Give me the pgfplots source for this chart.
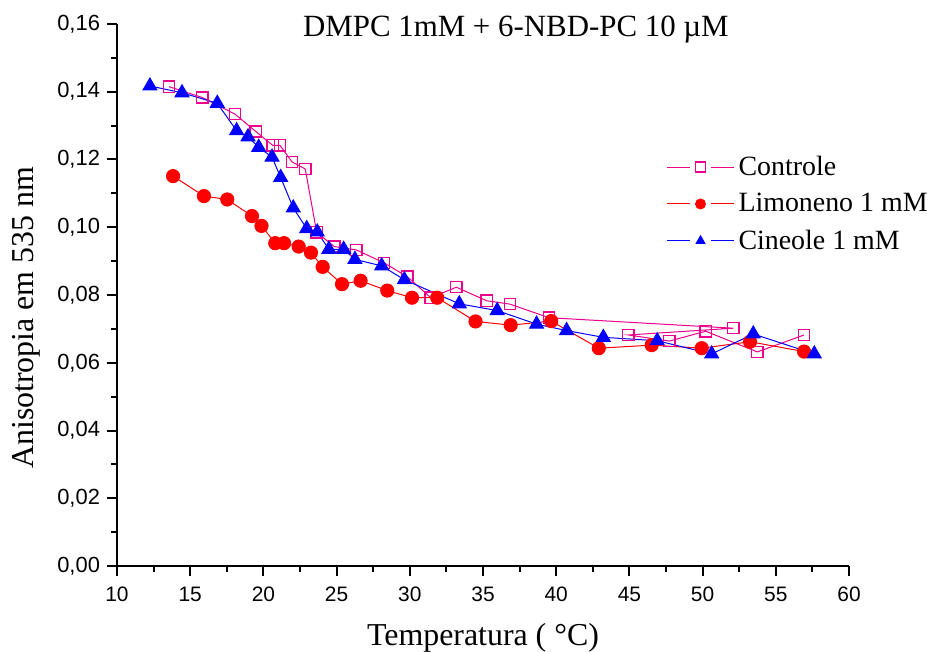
\documentclass[border=0pt]{standalone}
\usepackage{fontspec}
\setmainfont{Liberation Serif}
\newfontfamily\arialfont{Liberation Sans}
\usepackage{pgfplots}
\pgfplotsset{compat=1.18}

\begin{document}
\begin{tikzpicture}
\begin{axis}[
  scale only axis, width=366bp, height=271bp,
  xmin=10, xmax=60, ymin=0, ymax=0.16,
  axis x line*=bottom, axis y line*=left,
  x axis line style={-, line width=1bp}, y axis line style={-, line width=1bp},
  xtick={10,15,20,25,30,35,40,45,50,55,60}, minor x tick num=1,
  ytick={0,0.02,0.04,0.06,0.08,0.10,0.12,0.14,0.16}, minor y tick num=1,
  tick align=outside, major tick length=5bp, minor tick length=2.8bp,
  tick style={line width=1bp, black},
  /pgf/number format/assume math mode=true,
  y tick label style={font=\arialfont\fontsize{11}{13}\selectfont,
    /pgf/number format/.cd, fixed, fixed zerofill, precision=2, use comma},
  x tick label style={font=\arialfont\fontsize{10.5}{12}\selectfont, yshift=-2bp,
    /pgf/number format/.cd, fixed, precision=0},
  xlabel={Temperatura ( °C)},
  ylabel={Anisotropia em 535 nm},
  label style={font=\fontsize{16}{19}\selectfont},
  xlabel style={at={(axis description cs:0.5,0)}, anchor=base, yshift=-39.5bp},
  ylabel style={at={(axis description cs:0,0.458)}, rotate=0, anchor=base, yshift=41.5bp},
  title={DMPC 1mM + 6-NBD-PC 10 µM},
  every axis title shift=0pt,
  title style={at={(axis description cs:0.545,0.989)}, anchor=center, font=\fontsize{15.5}{18}\selectfont},
  legend style={at={(axis description cs:0.742,0.772)}, anchor=north west, draw=none, fill=none,
    font=\fontsize{14}{17}\selectfont, row sep=3.5bp},
  legend cell align=left,
  legend image code/.code={
    \draw[#1,mark=none] (0bp,0bp) -- (11.5bp,0bp);
    \draw[#1,mark=none] (22bp,0bp) -- (33.5bp,0bp);
    \draw[#1,mark size=2.5pt] plot[only marks] coordinates {(16.75bp,0bp)};
  },
]
\addplot[line width=0.5bp, magenta, mark=square, mark size=2.8pt, mark options={solid, line width=0.7bp}] coordinates {
(13.55,0.1415)(15.83,0.1383)(18.06,0.1334)(19.47,0.1283)(20.63,0.1242)(21.13,0.1242)
(21.95,0.1193)(22.86,0.1172)(23.64,0.0985)(24.84,0.0943)(26.35,0.0933)(28.24,0.0895)
(29.83,0.0854)(31.43,0.0792)(33.18,0.0823)(35.25,0.0783)(36.85,0.0773)(39.5,0.0733)
(52.1,0.0702)(44.93,0.0682)(47.73,0.0664)(50.21,0.0693)(53.74,0.0632)(56.93,0.0682)};
\addlegendentry{Controle}
\addplot[line width=0.5bp, red, mark=*, mark size=3.3pt, mark options={fill=red, draw=red}] coordinates {
(13.83,0.1151)(15.94,0.1092)(17.53,0.1082)(19.22,0.1033)(19.87,0.1004)(20.81,0.0953)
(21.41,0.0953)(22.41,0.0943)(23.25,0.0925)(24.05,0.0883)(25.37,0.0832)(26.64,0.0842)
(28.46,0.0813)(30.15,0.0792)(31.87,0.0792)(34.49,0.0722)(36.89,0.0711)(39.66,0.0723)
(42.91,0.0643)(46.52,0.0652)(49.94,0.0643)(53.24,0.0662)(56.93,0.0633)};
\addlegendentry{Limoneno 1 mM}
\addplot[line width=0.5bp, blue, mark=triangle*, mark size=4pt, mark options={fill=blue, draw=blue}] coordinates {
(12.25,0.1417)(14.44,0.1397)(16.85,0.1366)(18.17,0.1285)(18.95,0.1267)(19.68,0.1236)
(20.59,0.1207)(21.18,0.1147)(22.04,0.1057)(22.96,0.0996)(23.68,0.0986)(24.47,0.0935)
(25.48,0.0935)(26.25,0.0905)(28.08,0.0886)(29.63,0.0845)(33.38,0.0774)(35.97,0.0754)
(38.66,0.0714)(40.71,0.0695)(43.22,0.0675)(46.9,0.0665)(50.62,0.0626)(53.46,0.0685)
(57.63,0.0626)};
\addlegendentry{Cineole 1 mM}
\end{axis}
\pgfresetboundingbox
\path ([shift={(-58.5bp,-43bp)}]current axis.south west) rectangle ([shift={(42bp,12bp)}]current axis.north east);
\end{tikzpicture}
\end{document}
